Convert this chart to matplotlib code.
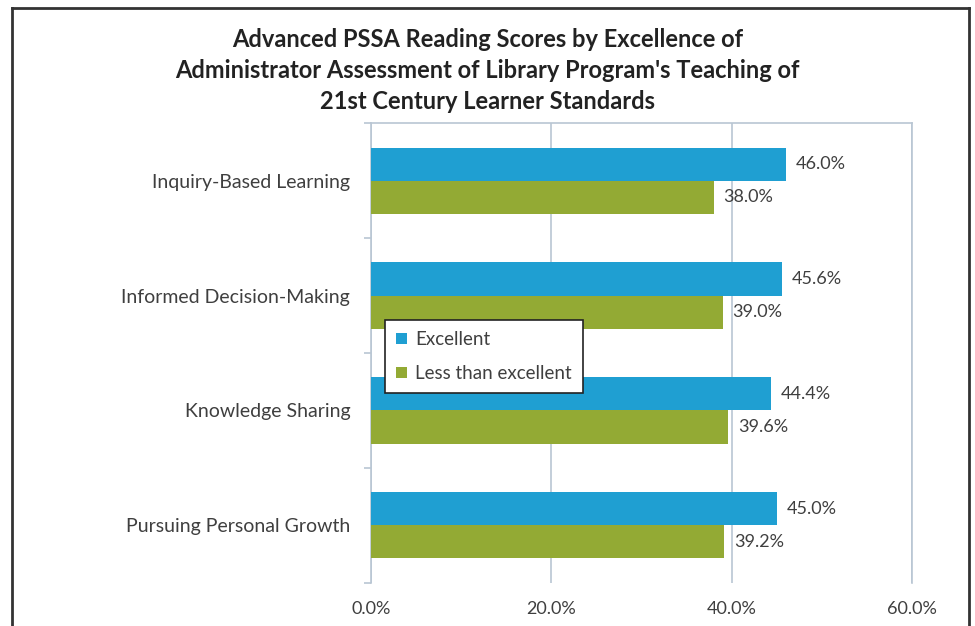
import matplotlib
matplotlib.use('Agg')  # no window, just save the file
import matplotlib.pyplot as plt
from matplotlib.lines import Line2D
import numpy as np

CATEGORIES = ['Inquiry-Based Learning', 'Informed Decision-Making',
              'Knowledge Sharing', 'Pursuing Personal Growth']
EXCELLENT = [46.0, 45.6, 44.4, 45.0]
LESS_THAN_EXCELLENT = [38.0, 39.0, 39.6, 39.2]
SERIES_NAMES = ['Excellent', 'Less than excellent']
X_TICKS = [0, 20, 40, 60]

TITLE = ("Advanced PSSA Reading Scores by Excellence of\n"
         "Administrator Assessment of Library Program's Teaching of\n"
         "21st Century Learner Standards")

BLUE = '#1f9fd2'
GREEN = '#93aa34'
GRID = '#b9c6d3'
TEXT = '#3f3f3f'
BAR_H = 0.287


def draw_bars(ax):
    y = np.arange(len(CATEGORIES))
    ax.barh(y - BAR_H / 2, EXCELLENT, height=BAR_H, color=BLUE,
            label=SERIES_NAMES[0], zorder=3)
    ax.barh(y + BAR_H / 2, LESS_THAN_EXCELLENT, height=BAR_H, color=GREEN,
            label=SERIES_NAMES[1], zorder=3)

    # value labels just right of each bar
    for vals, off in ((EXCELLENT, -BAR_H / 2), (LESS_THAN_EXCELLENT, BAR_H / 2)):
        for yi, v in zip(y, vals):
            ax.annotate(f'{v:.1f}%', xy=(v, yi + off), xytext=(7, 0),
                        textcoords='offset points', ha='left', va='center',
                        fontsize=13, color=TEXT)
    return y


def style_axes(ax, y):
    ax.set_xlim(0, 60)
    ax.set_ylim(len(CATEGORIES) - 0.5, -0.5)
    ax.set_xticks(X_TICKS)
    ax.set_xticklabels([f'{t:.1f}%' for t in X_TICKS], fontsize=13, color=TEXT)
    ax.tick_params(axis='x', length=0, pad=13)
    ax.grid(axis='x', color=GRID, linewidth=1.2, zorder=0)

    ax.set_yticks(y)
    ax.set_yticklabels(CATEGORIES, fontsize=14, color=TEXT)
    ax.tick_params(axis='y', which='major', length=0, pad=15)
    ax.set_yticks(np.arange(len(CATEGORIES) + 1) - 0.5, minor=True)
    ax.tick_params(axis='y', which='minor', length=5, color=GRID, width=1.2)

    ax.spines['bottom'].set_visible(False)
    for s in ('left', 'top', 'right'):
        ax.spines[s].set_color(GRID)
        ax.spines[s].set_linewidth(1.2)

    leg = ax.legend(loc='upper left', bbox_to_anchor=(0.026, 0.572),
                    fontsize=13.5, frameon=True, fancybox=False, framealpha=1,
                    handlelength=0.55, handleheight=0.55, handletextpad=0.45,
                    labelspacing=0.9, borderpad=0.6, borderaxespad=0,
                    labelcolor=TEXT)
    leg.get_frame().set_edgecolor('#222222')
    leg.get_frame().set_linewidth(1.2)
    leg.set_zorder(5)


def main():
    plt.rcParams['font.family'] = ['Lato', 'DejaVu Sans']
    fig = plt.figure(figsize=(9.75, 6.26), dpi=100)
    ax = fig.add_axes([0.3805, 0.0687, 0.5549, 0.7348])

    y = draw_bars(ax)
    style_axes(ax, y)

    fig.text(0.5, 0.956, TITLE, ha='center', va='top', fontsize=17,
             fontweight='bold', color='#222222', linespacing=1.42)

    # outer frame, open at the bottom like the cropped original
    W, H = 975, 626
    frame = dict(color='#333333', linewidth=2, transform=fig.transFigure)
    fig.add_artist(Line2D([12 / W, 12 / W], [0, 1 - 8 / H], **frame))
    fig.add_artist(Line2D([12 / W, 969 / W], [1 - 8 / H, 1 - 8 / H], **frame))
    fig.add_artist(Line2D([969 / W, 969 / W], [0, 1 - 8 / H], **frame))

    fig.savefig('out.png', dpi=100)
    plt.close(fig)
    print('saved out.png')


if __name__ == '__main__':
    main()
